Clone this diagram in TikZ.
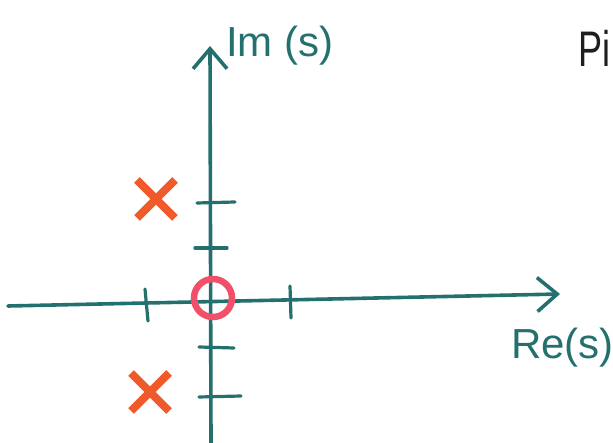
\documentclass[tikz,border=0pt]{standalone}
\usepackage{fontspec}
\setmainfont{Liberation Sans}
\usetikzlibrary{arrows.meta,shapes.misc}
\definecolor{axteal}{HTML}{24706F}
\definecolor{poleorange}{HTML}{F05A2A}
\definecolor{zeropink}{HTML}{F2506A}
\definecolor{inkblack}{HTML}{1E1E1E}

\begin{document}
\begin{tikzpicture}[x=1pt,y=-1pt,
  axis/.style={draw=axteal,line width=3.6pt,line cap=round,-{Straight Barb[length=20pt,width=34pt,line width=3.6pt]}},
  tickln/.style={draw=axteal,line width=3.2pt,line cap=round},
  pole/.style={cross out,draw=poleorange,line width=8pt,minimum size=30pt,inner sep=0pt},
  zero/.style={circle,draw=zeropink,line width=6.5pt,minimum size=38pt,inner sep=0pt},
  lbl/.style={font=\fontsize{42}{44}\selectfont,text=axteal,inner sep=0pt}]
\useasboundingbox (0,0) rectangle (613,443);
% axes
\coordinate (xl) at (8,306);
\coordinate (xr) at (560,294);
\coordinate (yb) at (211,445);
\coordinate (yt) at (210,46);
\draw[axis] (xl) -- (xr);
\draw[axis] (yb) -- (yt);
% ticks on Re axis
\draw[tickln] (145,289) -- (148,321);
\draw[tickln] (290,286) -- (291,318);
% ticks on Im axis
\draw[tickln] (197,203) -- (235,202);
\draw[tickln] (195,248) -- (227,248);
\draw[tickln] (199,347) -- (234,348);
\draw[tickln] (199,397) -- (241,396);
% poles and zero
\node[pole] (p1) at (156,199) {};
\node[pole] (p2) at (150,392) {};
\node[zero] (z1) at (213,298) {};
% labels
\node[lbl,anchor=west] (im) at (226,46) {Im (s)};
\node[lbl,anchor=west] (re) at (511,348) {Re(s)};
\node[font=\fontsize{50}{52}\selectfont,text=inkblack,anchor=west,inner sep=0pt] (pi) at (578,48) {\scalebox{0.72}[1]{Pi}};
\end{tikzpicture}
\end{document}
